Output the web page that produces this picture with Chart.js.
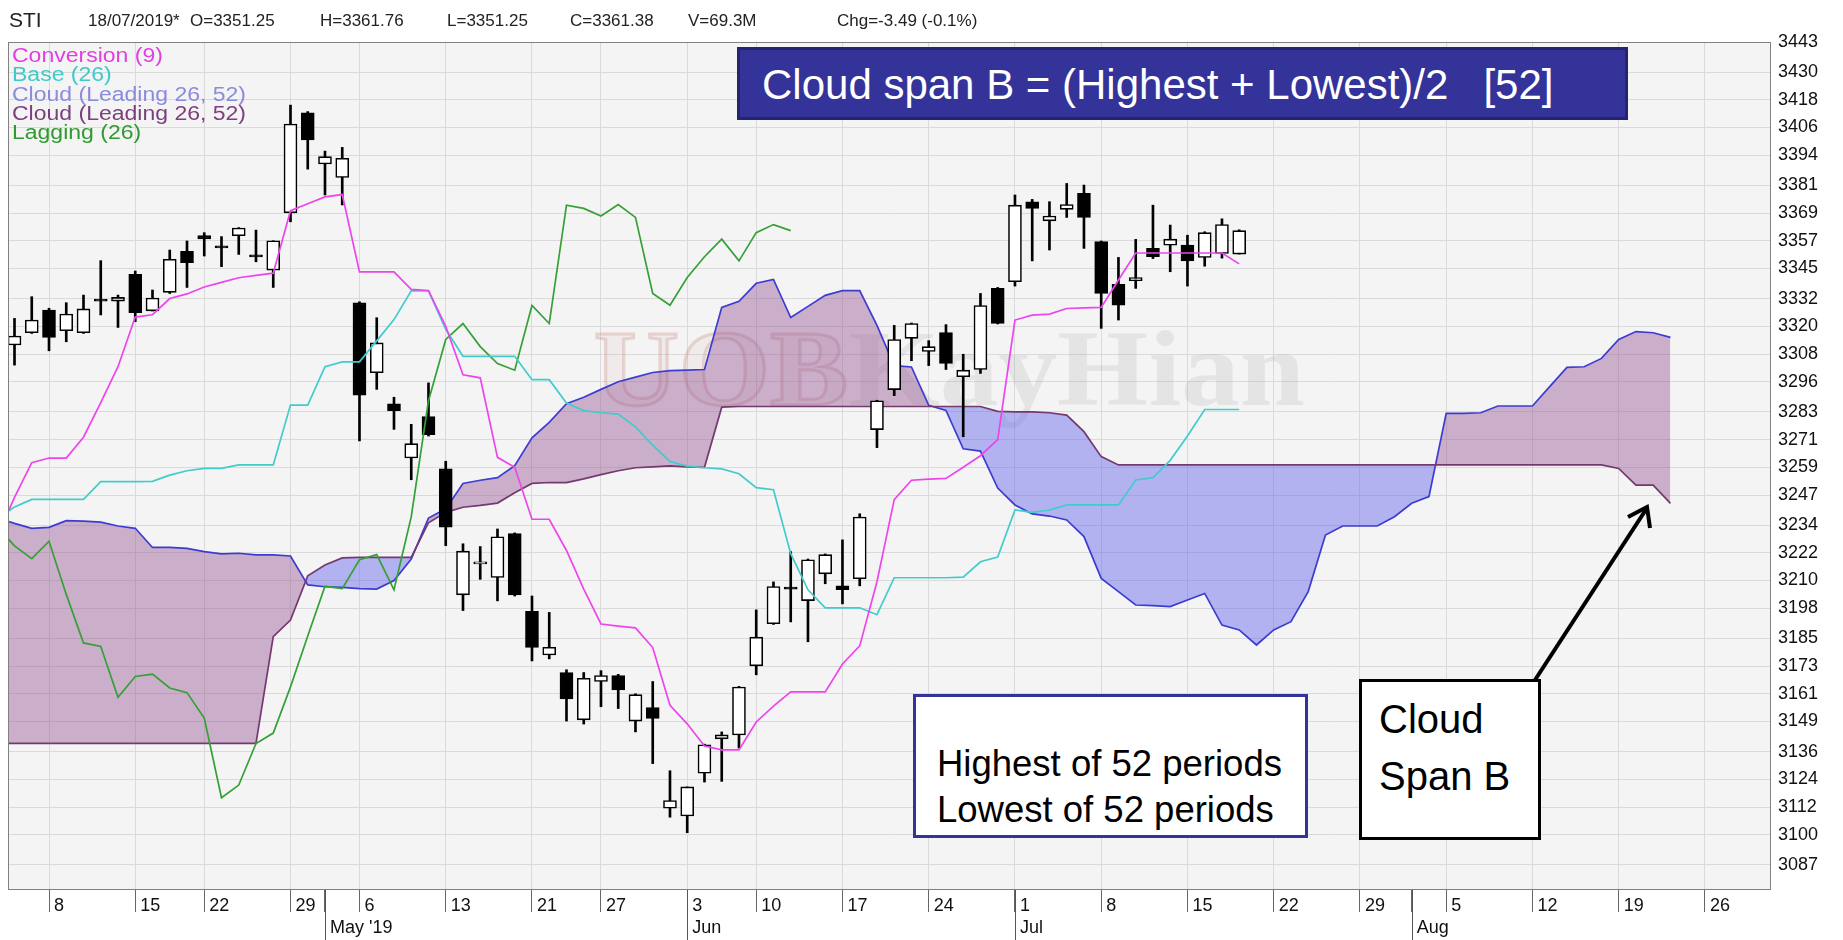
<!DOCTYPE html>
<html><head><meta charset="utf-8">
<script src="https://cdn.jsdelivr.net/npm/chart.js@4.4.1/dist/chart.umd.min.js"></script>
<style>
html,body{margin:0;padding:0;background:#fff;}
#wrap{position:relative;width:1843px;height:940px;overflow:hidden;background:#fff}
#c{position:absolute;left:0;top:0}
.t{position:absolute;white-space:nowrap;font-family:"Liberation Sans",Arial,sans-serif;line-height:1}
.hdr{font-size:17px;color:#222;top:12px}
.leg{font-size:20px;left:12px;transform-origin:0 0;transform:scaleX(1.15)}
.box{position:absolute;box-sizing:border-box}
svg{position:absolute;left:0;top:0}
</style></head><body><div id="wrap">
<canvas id="c" width="1843" height="940"></canvas>

<div class="t hdr" style="left:9px;top:9px;font-size:21px">STI</div>
<div class="t hdr" style="left:88px">18/07/2019*</div>
<div class="t hdr" style="left:190px">O=3351.25</div>
<div class="t hdr" style="left:320px">H=3361.76</div>
<div class="t hdr" style="left:447px">L=3351.25</div>
<div class="t hdr" style="left:570px">C=3361.38</div>
<div class="t hdr" style="left:688px">V=69.3M</div>
<div class="t hdr" style="left:837px">Chg=-3.49 (-0.1%)</div>

<div class="t leg" style="top:45px;color:#e040e0">Conversion (9)</div>
<div class="t leg" style="top:64px;color:#3fc9c9">Base (26)</div>
<div class="t leg" style="top:83.5px;color:#8b8bdc">Cloud (Leading 26, 52)</div>
<div class="t leg" style="top:102.7px;color:#7d3f7d">Cloud (Leading 26, 52)</div>
<div class="t leg" style="top:122px;color:#2f9a2f">Lagging (26)</div>

<div class="box" style="left:737px;top:47px;width:891px;height:73px;background:#333399;border:3px solid #24246f"></div>
<div class="t" style="left:762px;top:64px;font-size:42px;color:#fff">Cloud span B = (Highest + Lowest)/2&nbsp;&nbsp;&nbsp;[52]</div>

<div class="box" style="left:913px;top:694px;width:395px;height:144px;background:#fff;border:3px solid #333399"></div>
<div class="t" style="left:937px;top:746px;font-size:36.5px;color:#000">Highest of 52 periods</div>
<div class="t" style="left:937px;top:792px;font-size:36.5px;color:#000">Lowest of 52 periods</div>

<div class="box" style="left:1359px;top:679px;width:182px;height:161px;background:#fff;border:3px solid #000"></div>
<div class="t" style="left:1379px;top:699px;font-size:40px;color:#000">Cloud</div>
<div class="t" style="left:1379px;top:756px;font-size:40px;color:#000">Span B</div>

<svg width="1843" height="940">
  <line x1="1535" y1="680" x2="1647" y2="508" stroke="#000" stroke-width="4"/>
  <polyline points="1628,517 1647,507 1650,528" fill="none" stroke="#000" stroke-width="4" stroke-linejoin="miter"/>
</svg>
</div>
<script>
// ---------- categories (trading days; index 0 = 3 Apr 2019) ----------
const dates = ["04-03","04-04","04-05","04-08","04-09","04-10","04-11","04-12","04-15","04-16","04-17","04-18","04-22","04-23","04-24","04-25","04-26","04-29","04-30",
"05-02","05-03","05-06","05-07","05-08","05-09","05-10","05-13","05-14","05-15","05-16","05-17","05-21","05-22","05-23","05-24","05-27","05-28","05-29","05-30","05-31",
"06-03","06-04","06-06","06-07","06-10","06-11","06-12","06-13","06-14","06-17","06-18","06-19","06-20","06-21","06-24","06-25","06-26","06-27","06-28",
"07-01","07-02","07-03","07-04","07-05","07-08","07-09","07-10","07-11","07-12","07-15","07-16","07-17","07-18","07-19","07-22","07-23","07-24","07-25","07-26","07-29","07-30","07-31",
"08-01","08-02","08-05","08-06","08-07","08-08","08-09","08-12","08-13","08-14","08-15","08-16","08-19","08-20","08-21","08-22","08-23","08-26","08-27","08-28","08-29","08-30"];

// ---------- tick labels ----------
const weekTickDates = ["04-08","04-15","04-22","04-29","05-06","05-13","05-21","05-27","06-03","06-10","06-17","06-24","07-01","07-08","07-15","07-22","07-29","08-05","08-12","08-19","08-26"];
const weekTickLabels = ["8","15","22","29","6","13","21","27","3","10","17","24","1","8","15","22","29","5","12","19","26"];
const monthTickDates = ["05-02","06-03","07-01","08-01"];
const monthTickLabels = ["May '19","Jun","Jul","Aug"];
const yTicks = [3443,3430,3418,3406,3394,3381,3369,3357,3345,3332,3320,3308,3296,3283,3271,3259,3247,3234,3222,3210,3198,3185,3173,3161,3149,3136,3124,3112,3100,3087];

// ---------- candles (STI OHLC) ----------
const open = [null,3311.9,3317.2,3327.0,3318.1,3317.2,3331.2,3330.9,3342.5,3326.7,3334.7,3352.4,3359.2,3354.2,3359.2,3350.6,3344.3,3369.1,3412.4,3390.2,3384.4,
3330.1,3299.9,3286.5,3263.0,3280.9,3258.3,3203.8,3217.2,3211.3,3230.3,3196.7,3177.8,3170.2,3149.7,3166.3,3168.9,3149.2,3155.0,3111.5,3108.1,
3126.6,3141.5,3143.2,3173.1,3191.3,3207.2,3201.3,3212.9,3207.7,3210.8,3275.3,3292.6,3314.8,3309.1,3317.3,3298.2,3301.3,3336.4,
3339.3,3373.9,3365.6,3370.6,3377.5,3356.6,3338.2,3339.7,3353.7,3355.1,3355.1,3349.8,3351.5,3351.25];
const high = [null,3323.4,3332.8,3327.8,3330.2,3333.5,3348.4,3333.5,3343.9,3335.7,3353.0,3356.9,3360.5,3358.8,3362.7,3361.6,3357.0,3415.7,3412.9,3395.8,3397.4,
3330.6,3323.7,3289.3,3277.6,3295.5,3261.6,3225.9,3224.7,3232.3,3230.6,3203.3,3196.2,3171.4,3170.2,3171.0,3169.4,3161.0,3166.3,3127.7,3120.7,
3139.2,3144.5,3164.2,3197.3,3209.4,3222.5,3219.3,3221.5,3227.6,3238.9,3288.0,3320.4,3321.4,3313.8,3320.7,3307.9,3334.2,3336.8,
3376.8,3374.9,3373.9,3381.8,3381.1,3356.9,3349.8,3357.6,3372.4,3363.8,3359.4,3360.9,3366.5,3361.76];
const low = [null,3303.2,3316.9,3309.4,3313.3,3316.9,3324.9,3319.5,3322.0,3326.6,3334.2,3336.8,3350.4,3345.8,3351.1,3347.9,3336.8,3365.2,3388.0,3376.8,3372.5,
3270.4,3292.7,3275.4,3253.6,3272.5,3225.1,3197.0,3210.5,3201.2,3203.3,3175.2,3176.1,3149.2,3147.9,3155.4,3154.6,3144.5,3130.8,3107.6,3100.9,
3122.8,3123.1,3137.5,3169.2,3191.0,3192.1,3183.5,3208.6,3199.9,3207.7,3267.5,3290.0,3305.1,3303.0,3301.3,3272.2,3299.6,3321.0,
3337.4,3348.3,3353.0,3367.1,3353.7,3319.1,3322.7,3336.4,3349.3,3343.6,3337.4,3346.0,3349.5,3351.25];
const close = [null,3315.8,3322.7,3315.2,3325.3,3327.5,3330.9,3332.5,3325.9,3332.2,3349.0,3347.5,3357.8,3353.9,3362.5,3350.0,3357.0,3407.5,3400.6,3393.4,3392.7,
3290.2,3312.8,3283.5,3269.2,3273.1,3233.1,3222.7,3217.6,3228.9,3203.8,3181.1,3181.1,3158.8,3167.7,3168.9,3162.7,3160.6,3150.3,3114.8,3120.7,
3138.9,3143.2,3163.9,3185.5,3207.4,3206.3,3219.0,3221.2,3206.0,3237.5,3287.8,3314.3,3321.2,3311.2,3303.9,3301.0,3329.0,3321.2,
3372.4,3371.0,3367.7,3372.7,3367.1,3334.2,3329.1,3341.1,3350.1,3357.7,3348.3,3360.5,3364.0,3361.38];

// ---------- Ichimoku lines ----------
const conversion = [3229,3246,3261,3263,3263,3272,3287,3302.5,3324,3325,3332,3334,3337,3339,3341,3342,3343,3370,3373,3376,3377,
3343.5,3343.5,3343.5,3336,3335.5,3320,3299,3297.7,3263.3,3259,3236.5,3236.5,3223,3206.3,3191.2,3190.3,3189.5,3181,3156,3148,
3138.4,3136.7,3136.7,3148.8,3155.7,3161.8,3161.8,3161.8,3173.9,3181.7,3209.5,3245,3253.4,3253.9,3254.2,3259,3264,3271,
3322.7,3324.8,3325.3,3327.7,3328,3328.2,3340,3351.7,3351.7,3351.7,3351.7,3351.7,3351.7,3347];
const base = [3237,3241.8,3245.1,3245.1,3245.1,3245.1,3252.8,3252.8,3252.8,3252.9,3255.6,3257.5,3258.5,3258.5,3260,3260,3260,3285.9,3285.9,3302.5,3304.6,
3304.6,3313.7,3322.9,3335.3,3335.3,3318.7,3307,3307,3307,3307,3296.9,3296.9,3286.8,3283.5,3282.6,3282,3276.5,3268.5,3261.5,3259.5,
3258.8,3258.3,3256.2,3250.2,3249.3,3221.6,3206,3198.2,3198.2,3198.2,3195.2,3211.2,3211.2,3211.2,3211.2,3211.5,3218.1,3220.2,
3240.5,3239.5,3240.5,3242.7,3242.7,3242.7,3242.7,3253.5,3254.5,3262,3272.5,3284,3284,3284];
const lagging = [3233.3,3225,3219.5,3227,3204,3183,3181.5,3159.5,3168.5,3169.5,3163.5,3161.5,3150.5,3116,3121.5,3139.5,3144,3164,3186,3207.5,3206.5,
3219,3221.2,3206,3237.5,3287.8,3314.3,3321.2,3311.2,3303.9,3301,3329,3321.2,3372.4,3371,3367.7,3372.7,3367.1,3334.2,3329.1,3341.1,
3350.1,3357.7,3348.3,3360.5,3364,3361.4];
const spanA = [3237,3234.7,3232.6,3233,3235.9,3235.7,3235.3,3233.6,3232.6,3224.3,3224.3,3223.9,3222.5,3221.5,3221.8,3221.1,3221.1,3220.6,3208.1,3207.3,3207,
3206.5,3206.3,3210,3219.3,3237,3241,3252,3253.4,3254.5,3259.7,3271.7,3278.4,3286.5,3289.3,3292.7,3296,3298,3300,3300.8,3301,
3301.3,3328.2,3330.8,3338.6,3340.3,3323.8,3328.6,3333.4,3335.4,3335.4,3320.4,3303,3302.4,3285.8,3283.6,3267,3266,3250,
3242.7,3238.8,3237.9,3236.2,3229,3210.9,3205.2,3199.4,3199.1,3198.7,3201.6,3204.4,3190.7,3188.6,3182.1,3188.6,3192.2,3205.2,3229.7,3233.6,3233.6,3233.6,3237.6,3243.4,
3246.3,3282.3,3282.3,3282.6,3285.5,3285.5,3285.5,3293.9,3302.2,3302.5,3306.1,3314.3,3317.7,3317.2,3315.2];
const spanB = [3139.5,3139.5,3139.5,3139.5,3139.5,3139.5,3139.5,3139.5,3139.5,3139.5,3139.5,3139.5,3139.5,3139.5,3139.5,3139.5,3185.7,3192.9,3212,3216.7,3219.8,
3220,3220,3220,3220,3235,3239.5,3241.7,3242.5,3243.5,3248,3252,3252.4,3252.4,3254,3255.8,3257.5,3258.8,3259.2,3259.6,3259.2,
3259,3285,3285.3,3285.3,3285.3,3285.3,3285.3,3285.3,3285.3,3285.3,3285.3,3285.3,3285.3,3285.3,3285.3,3285.3,3285.3,3283.2,
3283,3283,3282.6,3281.6,3274.4,3263.6,3260,3260,3260,3260,3260,3260,3260,3260,3260,3260,3260,3260,3260,3260,3260,3260,3260,3260,
3260,3260,3260,3260,3260,3260,3260,3260,3260,3260,3260,3258.5,3251.3,3251.3,3243.4];

// ---------- build ----------
const idxOf = d => dates.indexOf(d);
const tickText = new Map();
weekTickDates.forEach((d,k) => tickText.set(idxOf(d), weekTickLabels[k]));
const monthIdx = new Set();
monthTickDates.forEach((d,k) => {
  const i = idxOf(d); monthIdx.add(i);
  const w = tickText.get(i);
  tickText.set(i, [w || "", monthTickLabels[k]]);
});
const monthOnly = new Set([...monthIdx].filter(i => !weekTickDates.includes(dates[i])));
const tickValues = [...tickText.keys()].sort((a,b)=>a-b);

const pts = arr => arr.map((v,i) => v == null ? null : {x:i, y:v}).filter(p => p);
const cIdx = open.map((v,i) => v == null ? -1 : i).filter(i => i >= 0);
const bodyData = cIdx.map(i => ({x:i, y:[open[i], close[i]]}));
const wickData = cIdx.map(i => ({x:i, y:[low[i], high[i]]}));
const isUp = cIdx.map(i => close[i] >= open[i]);

const FONT = '"Liberation Sans", Arial, sans-serif';

const bgPlugin = {
  id: 'bg',
  beforeDraw(chart) {
    const {ctx, chartArea: a} = chart;
    ctx.save(); ctx.fillStyle = '#f4f4f4';
    ctx.fillRect(a.left, a.top, a.right - a.left, a.bottom - a.top);
    ctx.restore();
  },
  beforeDatasetsDraw(chart) {
    const {ctx, chartArea: a} = chart;
    ctx.save();
    ctx.beginPath(); ctx.rect(a.left, a.top, a.right - a.left, a.bottom - a.top); ctx.clip();
    ctx.font = 'bold 108px "Liberation Serif", serif';
    const w1 = ctx.measureText('UOB').width, w2 = ctx.measureText('KayHian').width;
    const sx = 711 / (w1 + w2);
    ctx.translate(594, 405); ctx.scale(sx, 1);
    ctx.lineWidth = 3;
    ctx.strokeStyle = 'rgba(200,140,130,0.30)';
    ctx.fillStyle = 'rgba(215,175,165,0.12)';
    ctx.fillText('UOB', 0, 0); ctx.strokeText('UOB', 0, 0);
    ctx.fillStyle = 'rgba(140,140,140,0.15)';
    ctx.fillText('KayHian', w1, 0);
    ctx.restore();
  },
  afterDraw(chart) {
    const {ctx, chartArea: a, scales} = chart;
    ctx.save();
    ctx.strokeStyle = '#808080'; ctx.lineWidth = 1;
    ctx.strokeRect(a.left + 0.5, a.top + 0.5, a.right - a.left - 1, a.bottom - a.top - 1);
    ctx.strokeStyle = '#555';
    monthIdx.forEach(i => {
      const x = Math.round(scales.x.getPixelForValue(i)) + 0.5;
      ctx.beginPath(); ctx.moveTo(x, a.bottom); ctx.lineTo(x, 940); ctx.stroke();
    });
    ctx.restore();
  }
};

new Chart(document.getElementById('c'), {
  type: 'line',
  data: {
    datasets: [
      {label: 'Cloud (Leading 26, 52)', data: pts(spanA), borderColor: '#3c3cd2', borderWidth: 1.7, pointRadius: 0, tension: 0,
       fill: {target: 1, above: 'rgba(140,70,140,0.40)', below: 'rgba(80,80,235,0.40)'}, order: 10},
      {label: 'Cloud (Leading 26, 52) B', data: pts(spanB), borderColor: '#74396f', borderWidth: 1.7, pointRadius: 0, tension: 0, fill: false, order: 9},
      {type: 'bar', label: 'wick', data: wickData, backgroundColor: '#000', borderWidth: 0, barThickness: 2, grouped: false, order: 6},
      {type: 'bar', label: 'STI', data: bodyData, backgroundColor: c => isUp[c.dataIndex] ? '#ffffff' : '#000000',
       borderColor: '#000', borderWidth: 1.6, borderSkipped: false, barThickness: 13, minBarLength: 2, grouped: false, order: 5},
      {label: 'Lagging (26)', data: pts(lagging), borderColor: '#35a035', borderWidth: 1.7, pointRadius: 0, tension: 0, fill: false, order: 3},
      {label: 'Base (26)', data: pts(base), borderColor: '#40cccc', borderWidth: 1.7, pointRadius: 0, tension: 0, fill: false, order: 2},
      {label: 'Conversion (9)', data: pts(conversion), borderColor: '#ee44ee', borderWidth: 1.7, pointRadius: 0, tension: 0, fill: false, order: 1}
    ]
  },
  options: {
    responsive: false, animation: false, devicePixelRatio: 1,
    layout: {padding: {left: 8, top: 42, right: 0, bottom: 0}},
    plugins: {legend: {display: false}, tooltip: {enabled: false}, title: {display: false}},
    scales: {
      x: {
        type: 'linear', min: 0.623, max: 102.83, offset: false, position: 'bottom',
        afterBuildTicks: s => { s.ticks = tickValues.map(v => ({value: v})); },
        afterFit: s => { s.height = 50; },
        ticks: {autoSkip: false, maxRotation: 0, minRotation: 0, align: 'start', labelOffset: 5, padding: -16.8,
                color: '#111', font: {family: FONT, size: 18, lineHeight: 1.2},
                callback: v => tickText.get(v)},
        grid: {offset: false, color: c => (c.tick && monthOnly.has(c.tick.value)) ? 'rgba(0,0,0,0)' : '#dadada',
               lineWidth: 1, drawTicks: true, tickLength: 22, tickColor: '#666', tickWidth: 1},
        border: {display: false}
      },
      y: {
        type: 'linear', position: 'right', min: 3076.1, max: 3443,
        afterBuildTicks: s => { s.ticks = yTicks.map(v => ({value: v})); },
        afterFit: s => { s.width = 72; },
        ticks: {autoSkip: false, padding: 7, color: '#111', font: {family: FONT, size: 18}, callback: v => String(v)},
        grid: {color: '#dadada', drawTicks: false},
        border: {display: false}
      }
    }
  },
  plugins: [bgPlugin]
});
</script>
</body></html>
